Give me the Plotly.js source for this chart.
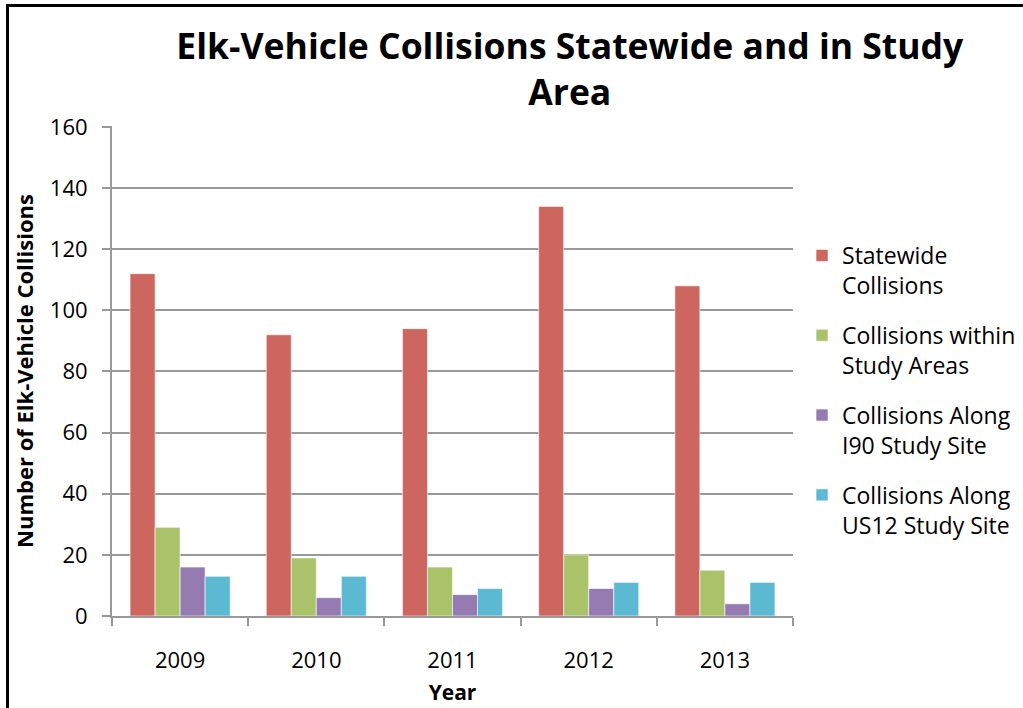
<!DOCTYPE html>
<html><head><meta charset="utf-8">
<script src="https://cdn.plot.ly/plotly-3.0.1.min.js"></script>
<style>
html,body{margin:0;padding:0;background:#fff;overflow:hidden;}
#frame{position:absolute;left:6px;top:4px;width:1030px;height:720px;border:3px solid #000;box-sizing:border-box;pointer-events:none;z-index:5;}
#chart{position:absolute;left:0;top:0;width:1023px;height:708px;}
</style></head>
<body>
<div id="chart"></div>
<div id="frame"></div>
<script>
const years = ['2009','2010','2011','2012','2013'];
const statewide = [112, 92, 94, 134, 108];
const studyAreas = [29, 19, 16, 20, 15];
const i90Site = [16, 6, 7, 9, 4];
const us12Site = [13, 13, 9, 11, 11];
const seriesNames = ['Statewide<br>Collisions','Collisions within<br>Study Areas','Collisions Along<br>I90 Study Site','Collisions Along<br>US12 Study Site'];
const seriesColors = ['#CD665F','#AAC36B','#957BB1','#5CB9D2'];
const seriesValues = [statewide, studyAreas, i90Site, us12Site];

const font = '"Open Sans", "Noto Sans", sans-serif';
const traces = seriesValues.map((v,i)=>({
  type:'bar', x:years, y:v, name:seriesNames[i], legendgroup:'g'+i,
  marker:{color:seriesColors[i], line:{color:'rgba(255,255,255,0.6)', width:1}}
}));

const layout = {
  width:1023, height:708,
  margin:{l:112, r:230, t:126, b:92},
  paper_bgcolor:'#fff', plot_bgcolor:'#fff',
  font:{family:font, size:20, color:'#000'},
  title:{text:'<b>Elk-Vehicle Collisions Statewide and in Study<br>Area</b>', x:0.557, xanchor:'center', yref:'container', y:0.9167, yanchor:'middle', font:{family:font, size:35.5, color:'#000'}},
  barmode:'group', bargap:0.265, bargroupgap:0,
  xaxis:{type:'category', showline:true, linecolor:'#999', linewidth:2, ticks:'outside', tickson:'boundaries', ticklen:8, tickwidth:2, tickcolor:'#999', showgrid:false, tickfont:{size:22}, ticklabelstandoff:24, title:{text:'<b>Year</b>', font:{size:21}, standoff:12}},
  yaxis:{range:[0,160.3], tickvals:[0,20,40,60,80,100,120,140,160], showline:true, linecolor:'#999', linewidth:2, ticks:'outside', ticklen:8, tickwidth:2, tickcolor:'#999', gridcolor:'#999', gridwidth:2, zeroline:false, tickfont:{size:22}, ticklabelstandoff:10, title:{text:'<b>Number of Elk-Vehicle Collisions</b>', font:{size:22}, standoff:10}},
  legend:{xref:'container', yref:'container', x:0.784, xanchor:'left', y:0.6695, yanchor:'top', font:{size:23}, traceorder:'grouped', tracegroupgap:17, valign:'top', itemwidth:30, bgcolor:'rgba(0,0,0,0)'},
  showlegend:true
};
Plotly.newPlot('chart', traces, layout, {displayModeBar:false, staticPlot:true});
</script>
</body></html>
